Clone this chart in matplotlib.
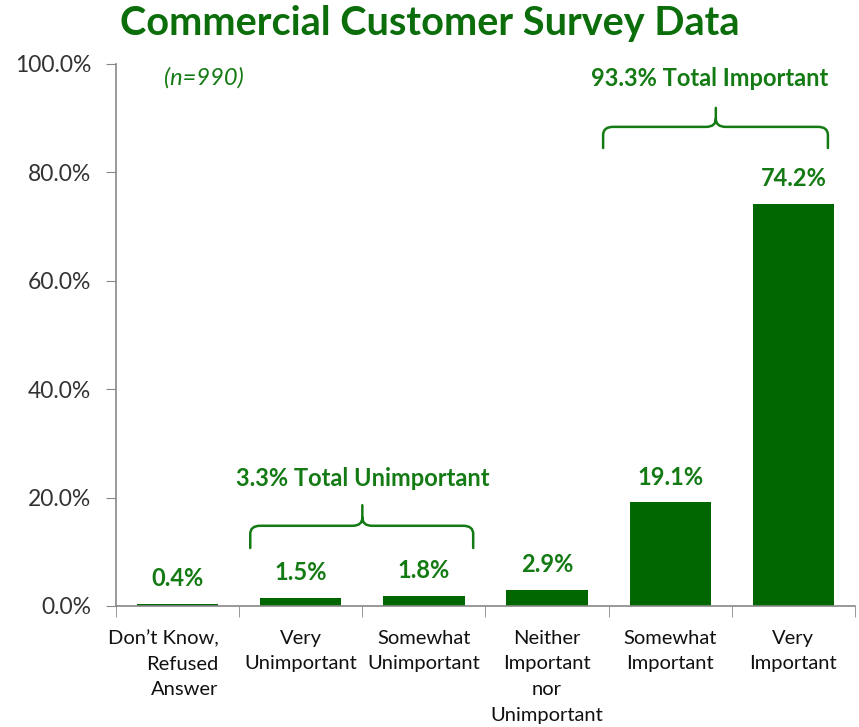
import matplotlib
matplotlib.use("Agg")
import matplotlib.pyplot as plt
from matplotlib.path import Path
from matplotlib.patches import PathPatch
from matplotlib.transforms import ScaledTranslation
from matplotlib.ticker import FixedLocator, FuncFormatter

categories = ["Don\u2019t Know,\nRefused\nAnswer", "Very\nUnimportant", "Somewhat\nUnimportant",
              "Neither\nImportant\nnor\nUnimportant", "Somewhat\nImportant", "Very\nImportant"]
values = [0.4, 1.5, 1.8, 2.9, 19.1, 74.2]
yticks = [0, 20, 40, 60, 80, 100]
title = "Commercial Customer Survey Data"
note = "(n=990)"
group_labels = ["3.3% Total Unimportant", "93.3% Total Important"]

BAR = "#006600"
TXT = "#147a14"
FONT = ["Lato", "DejaVu Sans"]
plt.rcParams["font.family"] = FONT

fig = plt.figure(figsize=(8.59, 7.27), dpi=100)
ax = fig.add_axes([116/859, 1-606/727, (855-116)/859, (606-64)/727])

x = list(range(len(values)))
ax.bar(x, values, width=0.66, color=BAR)
for xi, v in zip(x, values):
    ax.annotate(f"{v:.1f}%", (xi, v), xytext=(0, 10), textcoords="offset points",
                ha="center", va="bottom", fontsize=17, fontweight="bold", color=TXT)

ax.set_xlim(-0.5, 5.5)
ax.set_ylim(0, 100)
ax.set_yticks(yticks)
ax.yaxis.set_major_formatter(FuncFormatter(lambda v, p: f"{v:.1f}%"))
ax.tick_params(axis="y", labelsize=16.5, length=7, color="#888888", labelcolor="#333333", pad=11)

ax.set_xticks(x)
ax.set_xticklabels(categories, fontsize=14.5, color="#111111", linespacing=1.62)
ax.tick_params(axis="x", which="major", length=0, pad=17)
ax.xaxis.set_minor_locator(FixedLocator([i - 0.5 for i in range(len(values) + 1)]))
ax.tick_params(axis="x", which="minor", length=8, color="#888888")
lab0 = ax.get_xticklabels()[0]
lab0.set_horizontalalignment("right")
lab0.set_multialignment("right")
lab0.set_transform(lab0.get_transform() + ScaledTranslation(0.41, 0, fig.dpi_scale_trans))

for s in ["top", "right"]:
    ax.spines[s].set_visible(False)
for s in ["left", "bottom"]:
    ax.spines[s].set_color("#888888")
    ax.spines[s].set_linewidth(1.2)


def brace(x0, x1, xc, ybot, yh, ypk, rx=0.08, ry=1.5):
    verts = [(x0, ybot), (x0, yh - ry), (x0, yh), (x0 + rx, yh),
             (xc - rx, yh), (xc, yh), (xc, yh + ry), (xc, ypk),
             (xc, yh + ry), (xc, yh), (xc + rx, yh),
             (x1 - rx, yh), (x1, yh), (x1, yh - ry), (x1, ybot)]
    codes = [Path.MOVETO, Path.LINETO, Path.CURVE3, Path.CURVE3,
             Path.LINETO, Path.CURVE3, Path.CURVE3, Path.LINETO,
             Path.MOVETO, Path.CURVE3, Path.CURVE3,
             Path.LINETO, Path.CURVE3, Path.CURVE3, Path.LINETO]
    ax.add_patch(PathPatch(Path(verts, codes), fill=False, edgecolor=TXT, lw=1.8,
                           capstyle="round", joinstyle="round", clip_on=False))


brace(0.59, 2.40, 1.50, 10.7, 14.8, 18.6)
ax.text(1.5, 23.6, group_labels[0], ha="center", va="center", fontsize=17,
        fontweight="bold", color=TXT)
brace(3.455, 5.28, 4.37, 84.5, 88.4, 91.9)
ax.text(4.32, 97.4, group_labels[1], ha="center", va="center", fontsize=17,
        fontweight="bold", color=TXT)

ax.text(0.21, 97.4, note, ha="center", va="center", fontsize=17, style="italic", color=TXT)

fig.text(430/859, 1-23/727, title, ha="center", va="center", fontsize=28.5,
         fontweight="bold", color="#0b6e0b")

fig.savefig("out.png", dpi=100)
